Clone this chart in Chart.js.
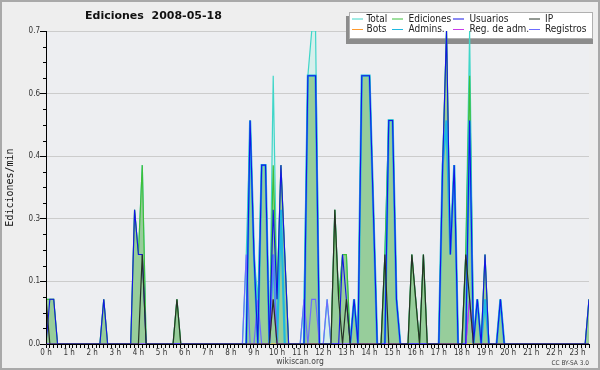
<!DOCTYPE html>
<html>
<head>
<meta charset="utf-8">
<script src="https://cdn.jsdelivr.net/npm/chart.js@4.4.1/dist/chart.umd.min.js"></script>
<style>
  html, body { margin: 0; padding: 0; background: #eeeeee; }
</style>
</head>
<body>
<canvas id="chart" width="600" height="370"></canvas>
<script>
// edits per minute, 10-minute bins; times not listed had no edits
const lastBin = 141;
const hourLabels = ['0 h','1 h','2 h','3 h','4 h','5 h','6 h','7 h','8 h','9 h','10 h','11 h',
  '12 h','13 h','14 h','15 h','16 h','17 h','18 h','19 h','20 h','21 h','22 h','23 h'];
const yTickValues = [0, 0.14, 0.28, 0.42, 0.56, 0.7];
const yTickLabels = ['0.0', '0.1', '0.3', '0.4', '0.6', '0.7'];

const total = [['0:00',0.1],['0:10',0.1],['0:20',0.1],['2:30',0.1],['3:50',0.3],['4:00',0.2],['4:10',0.4],
  ['5:40',0.1],['8:40',0.2],['8:50',0.5],['9:00',0.2],['9:10',0.1],['9:20',0.4],['9:30',0.4],['9:50',0.6],
  ['10:00',0.1],['10:10',0.4],['10:20',0.2],['11:10',0.1],['11:20',0.6],['11:30',0.7],['11:40',0.7],
  ['12:10',0.1],['12:30',0.3],['12:40',0.1],['12:50',0.2],['13:00',0.2],['13:20',0.1],['13:40',0.6],
  ['13:50',0.6],['14:00',0.6],['14:10',0.3],['14:40',0.2],['14:50',0.5],['15:00',0.5],['15:10',0.1],
  ['15:50',0.2],['16:00',0.1],['16:20',0.2],['17:10',0.4],['17:20',0.7],['17:30',0.2],['17:40',0.4],
  ['18:10',0.2],['18:20',0.7],['18:40',0.1],['19:00',0.2],['19:40',0.1],['23:30',0.1]];
const ediciones = [['0:00',0.1],['0:10',0.1],['0:20',0.1],['2:30',0.1],['3:50',0.3],['4:00',0.2],['4:10',0.4],
  ['5:40',0.1],['8:50',0.5],['9:00',0.2],['9:20',0.4],['9:30',0.4],['9:50',0.4],['10:00',0.1],['10:10',0.4],
  ['10:20',0.2],['11:20',0.6],['11:30',0.6],['11:40',0.6],['12:30',0.3],['12:40',0.1],['12:50',0.2],
  ['13:00',0.2],['13:20',0.1],['13:40',0.6],['13:50',0.6],['14:00',0.6],['14:10',0.3],['14:40',0.2],
  ['14:50',0.5],['15:00',0.5],['15:10',0.1],['15:50',0.2],['16:00',0.1],['16:20',0.2],['17:10',0.4],
  ['17:20',0.7],['17:30',0.2],['17:40',0.4],['18:10',0.2],['18:20',0.6],['18:40',0.1],['19:00',0.2],
  ['19:40',0.1],['23:30',0.1]];
const usuarios = [['0:10',0.1],['0:20',0.1],['2:30',0.1],['3:50',0.3],['4:00',0.2],['4:10',0.2],['8:50',0.5],
  ['9:00',0.2],['9:20',0.4],['9:30',0.4],['9:50',0.3],['10:00',0.1],['10:10',0.4],['10:20',0.2],['11:20',0.6],
  ['11:30',0.6],['11:40',0.6],['12:50',0.2],['13:00',0.1],['13:20',0.1],['13:40',0.6],['13:50',0.6],
  ['14:00',0.6],['14:10',0.3],['14:50',0.5],['15:00',0.5],['15:10',0.1],['17:10',0.4],['17:20',0.7],
  ['17:30',0.2],['17:40',0.4],['18:20',0.5],['18:40',0.1],['19:00',0.2],['19:40',0.1],['23:30',0.1]];
const ip = [['0:00',0.1],['4:10',0.2],['5:40',0.1],['9:50',0.1],['12:30',0.3],['12:40',0.1],['13:00',0.1],
  ['14:40',0.2],['15:50',0.2],['16:00',0.1],['16:20',0.2],['18:10',0.2],['18:20',0.1]];
const bots = [];
const admins = [['8:50',0.5],['9:00',0.2],['9:20',0.4],['9:30',0.4],['9:50',0.2],['10:10',0.3],['11:20',0.6],
  ['11:30',0.6],['11:40',0.6],['13:20',0.1],['13:40',0.6],['13:50',0.6],['14:00',0.6],['14:10',0.3],
  ['14:50',0.5],['15:00',0.5],['15:10',0.1],['17:10',0.4],['17:20',0.5],['17:30',0.2],['17:40',0.4],
  ['18:20',0.5],['18:40',0.1],['19:00',0.1],['19:40',0.1]];
const regAdm = [['9:50',0.1],['18:20',0.1]];
const registros = [['8:40',0.2],['9:10',0.1],['9:50',0.2],['11:10',0.1],['11:30',0.1],['11:40',0.1],
  ['12:10',0.1],['18:20',0.1]];

const SANS = '"DejaVu Sans Condensed", "DejaVu Sans", sans-serif';

function toPoints(pairs) {
  const vals = new Array(lastBin + 1).fill(0);
  pairs.forEach(([t, v]) => {
    const [h, m] = t.split(':').map(Number);
    vals[h * 6 + m / 10] = v;
  });
  return vals.map((v, i) => ({ x: i, y: v }));
}

function series(label, pairs, color, width, order, fillColor) {
  return {
    label, data: toPoints(pairs),
    borderColor: color, borderWidth: width,
    backgroundColor: fillColor || color,
    fill: fillColor ? 'origin' : false,
    pointRadius: 0, tension: 0, order
  };
}

const datasets = [
  series('Total', total, '#3fd6c8', 1.2, 8, '#d6efec'),
  series('Ediciones', ediciones, '#3cbf3c', 1.2, 7, '#97cd9b'),
  series('Usuarios', usuarios, '#1414e6', 1.1, 2),
  series('IP', ip, '#263226', 1.2, 1),
  series('Bots', bots, '#ff9a2e', 1, 6),
  series('Admins.', admins, '#1fb8e0', 2.2, 5),
  series('Reg. de adm.', regAdm, '#c93ae8', 1.2, 3),
  series('Registros', registros, '#6c6cff', 1.2, 4)
];

const decor = {
  id: 'decor',
  beforeDraw(chart) {
    const { ctx, chartArea: a } = chart;
    ctx.save();
    ctx.fillStyle = '#eeeeee';
    ctx.fillRect(0, 0, chart.width, chart.height);
    ctx.fillStyle = '#edeef1';
    ctx.fillRect(a.left, a.top, a.right - a.left, a.bottom - a.top);
    ctx.strokeStyle = '#a9a9a9';
    ctx.lineWidth = 2;
    ctx.strokeRect(1, 1, chart.width - 2, chart.height - 2);
    ctx.restore();
  },
  beforeDatasetsDraw(chart) {
    // legend box sits under the data lines
    const ctx = chart.ctx;
    ctx.save();
    ctx.fillStyle = '#8c8c8c';
    ctx.fillRect(346, 16, 247, 28);
    ctx.fillStyle = '#ffffff';
    ctx.fillRect(349, 12, 244, 27);
    ctx.strokeStyle = '#b0b0b0';
    ctx.lineWidth = 1;
    ctx.strokeRect(349.5, 12.5, 243, 26);
    const lineX = [352, 392, 453, 529];
    const textX = [366.5, 408.5, 469.5, 545];
    const rowY = [19, 29.5];
    ctx.font = '10px ' + SANS;
    ctx.textBaseline = 'middle';
    ctx.textAlign = 'left';
    chart.data.datasets.forEach((ds, i) => {
      const col = i % 4, row = Math.floor(i / 4);
      ctx.strokeStyle = ds.borderColor;
      ctx.beginPath();
      ctx.moveTo(lineX[col], rowY[row]);
      ctx.lineTo(lineX[col] + 11, rowY[row]);
      ctx.stroke();
      ctx.fillStyle = '#222';
      ctx.fillText(ds.label, textX[col], rowY[row]);
    });
    ctx.restore();
  },
  afterDatasetsDraw(chart) {
    const { ctx, chartArea: a, scales } = chart;
    ctx.save();
    ctx.strokeStyle = '#000';
    ctx.lineWidth = 1;
    ctx.beginPath();
    ctx.moveTo(a.left + 0.5, a.top);
    ctx.lineTo(a.left + 0.5, a.bottom + 0.5);
    ctx.lineTo(a.right, a.bottom + 0.5);
    // minor ticks on the value axis
    for (let k = 1; k < 20; k++) {
      if (k % 4 === 0) continue;
      const py = Math.round(scales.y.getPixelForValue(k * 0.035)) + 0.5;
      ctx.moveTo(a.left - 3, py);
      ctx.lineTo(a.left + 0.5, py);
    }
    ctx.stroke();
    ctx.restore();
  },
  afterDraw(chart) {
    const ctx = chart.ctx;
    ctx.save();
    ctx.fillStyle = '#111';
    ctx.textBaseline = 'middle';
    ctx.textAlign = 'left';
    ctx.font = 'bold 11px "DejaVu Sans", sans-serif';
    ctx.fillText('Ediciones  2008-05-18', 85, 16);

    ctx.save();
    ctx.translate(10, 187.5);
    ctx.rotate(-Math.PI / 2);
    ctx.textAlign = 'center';
    ctx.font = '10px "DejaVu Sans Mono", monospace';
    ctx.fillText('Ediciones/min', 0, 0);
    ctx.restore();

    ctx.fillStyle = '#444';
    ctx.textAlign = 'center';
    ctx.font = '8.5px ' + SANS;
    ctx.fillText('wikiscan.org', 300, 361.5);
    ctx.textAlign = 'right';
    ctx.font = '6.5px ' + SANS;
    ctx.fillText('CC BY-SA 3.0', 589, 363);
    ctx.restore();
  }
};

new Chart(document.getElementById('chart'), {
  type: 'line',
  data: { datasets },
  options: {
    responsive: false,
    animation: false,
    layout: { padding: { top: 31, right: 11, left: 0, bottom: 0 } },
    plugins: { legend: { display: false }, title: { display: false }, tooltip: { enabled: false } },
    scales: {
      x: {
        type: 'linear', min: 0, max: lastBin,
        afterBuildTicks: s => { s.ticks = Array.from({ length: lastBin + 1 }, (_, i) => ({ value: i })); },
        afterFit: s => { s.height = 26; },
        ticks: {
          autoSkip: false, maxRotation: 0, padding: 0, color: '#333',
          font: { family: SANS, size: 8 },
          callback: v => (v % 6 === 0 ? hourLabels[v / 6] : '')
        },
        grid: { drawOnChartArea: false, tickLength: 4, tickColor: '#000' },
        border: { display: false }
      },
      y: {
        min: 0, max: 0.7,
        afterBuildTicks: s => { s.ticks = yTickValues.map(v => ({ value: v })); },
        afterFit: s => { s.width = 46; },
        ticks: {
          padding: 0, color: '#333',
          font: { family: SANS, size: 8 },
          callback: (v, i) => yTickLabels[i]
        },
        grid: { color: '#cccccc', tickLength: 6, tickColor: '#000' },
        border: { display: false }
      }
    }
  },
  plugins: [decor]
});
</script>
</body>
</html>
